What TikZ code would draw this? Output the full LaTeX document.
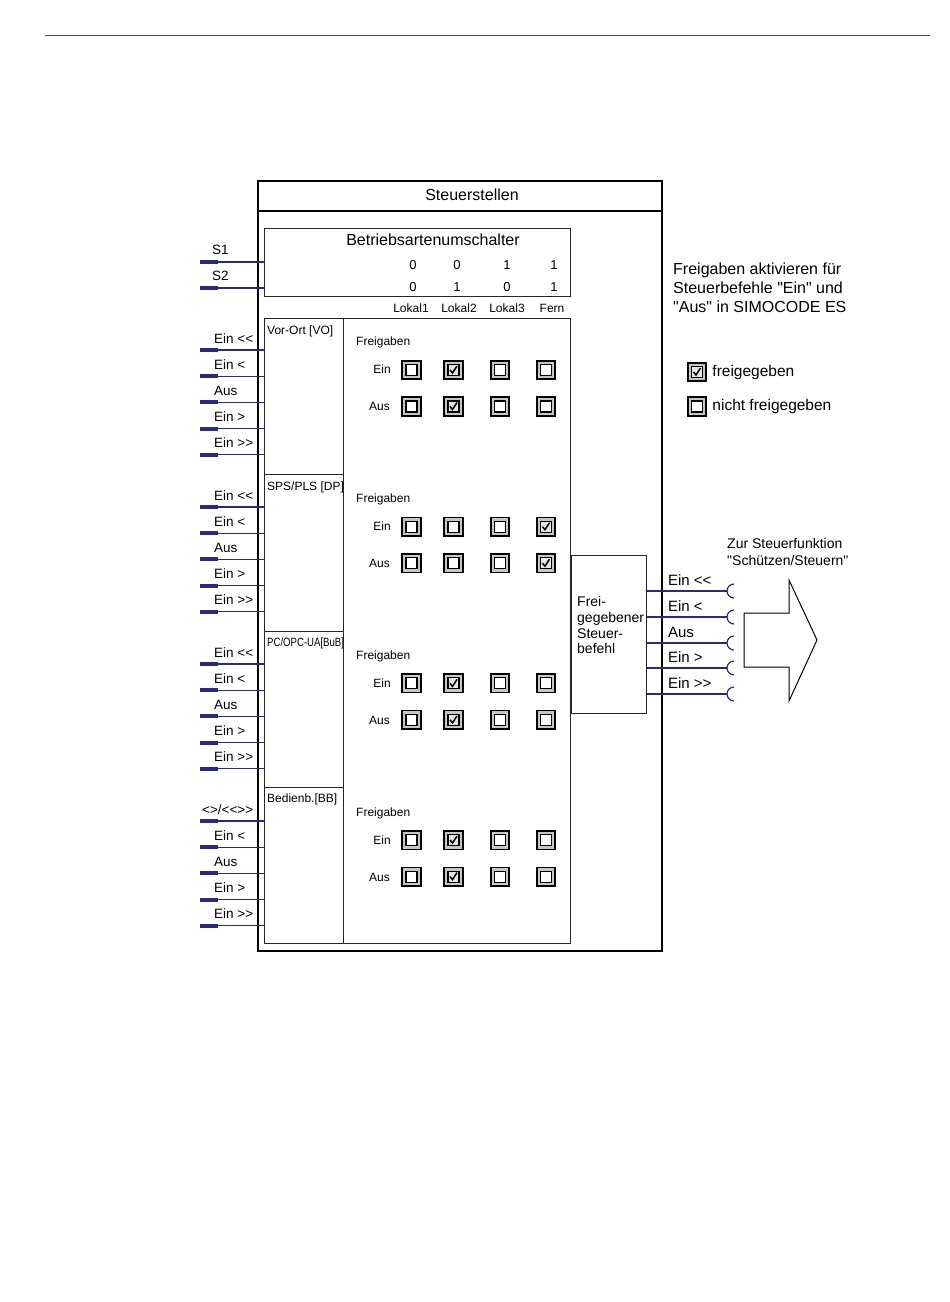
\documentclass[tikz,border=0pt]{standalone}
\usepackage{fontspec}
\setmainfont{Liberation Sans}[Ligatures=TeXOff]
\usetikzlibrary{positioning,calc}
\definecolor{sigblue}{RGB}{40,40,135}

\newcommand{\bigf}{\fontsize{16}{18}\selectfont}
\newcommand{\notef}{\fontsize{15.5}{18}\selectfont}
\newcommand{\outf}{\fontsize{15}{17}\selectfont}
\newcommand{\midf}{\fontsize{14}{16}\selectfont}
\newcommand{\sigf}{\fontsize{13.5}{15}\selectfont}
\newcommand{\digf}{\fontsize{13}{15}\selectfont}
\newcommand{\smf}{\fontsize{12}{14}\selectfont}

\tikzset{
  box/.style={draw=black!85, line width=0.9pt, inner sep=0pt, anchor=north west},
  sig/.style={draw=sigblue, line width=1.2pt},
  stub/.style={draw=sigblue, line width=4pt},
  lbl/.style={anchor=base west, inner sep=0pt, font=\sigf},
  chk/.style={draw=black, line width=1.6pt, fill=gray!45, minimum size=18.5pt,
    inner sep=0pt, outer sep=0pt,
    path picture={\draw[line width=1.1pt, fill=white]
      ([shift={(-5.5,-5.5)}]path picture bounding box.center) rectangle
      ([shift={(5.5,5.5)}]path picture bounding box.center);}},
  chkon/.style={chk,
    path picture={\draw[line width=1.1pt, fill=gray!20]
      ([shift={(-5.5,-5.5)}]path picture bounding box.center) rectangle
      ([shift={(5.5,5.5)}]path picture bounding box.center);
      \draw[line width=1.5pt]
      ([shift={(-3.5,0)}]path picture bounding box.center) --
      ([shift={(-1,3)}]path picture bounding box.center) --
      ([shift={(3.5,-4)}]path picture bounding box.center);}}
}

\begin{document}
\begin{tikzpicture}[x=1pt, y=-1pt, font=\smf]
  \useasboundingbox (0,0) rectangle (950,1302);
  %% page rule
  \draw[black!70, line width=0.8pt] (45,35) -- (930,35);

  %% frame with title
  \node[box, draw=black, line width=2pt, minimum width=404pt, minimum height=770pt] (frame) at (257,180) {};
  \draw[line width=1.6pt] ($(frame.north west)+(0,31)$) -- ($(frame.north east)+(0,31)$);
  \node[anchor=base, font=\bigf] (titel) at (472,200) {Steuerstellen};

  %% Betriebsartenumschalter
  \node[box, minimum width=306pt, minimum height=68pt] (modus) at (264,228) {};
  \node[anchor=base, font=\bigf] (modustitel) at (433,245) {Betriebsartenumschalter};
  \foreach \x/\lx/\a/\b/\m [count=\i] in {413/411/0/0/Lokal1, 457/459/0/1/Lokal2,
                                          507/507/1/0/Lokal3, 554/552/1/1/Fern}{
    \node[anchor=base, font=\digf] (sa\i) at (\x,269) {\a};
    \node[anchor=base, font=\digf] (sb\i) at (\x,291) {\b};
    \node[anchor=base, font=\smf] (mode\i) at (\lx,312) {\m};
  }
  \foreach \y/\s in {262/S1, 288/S2}{
    \coordinate (\s) at (200,\y);
    \draw[sig] (\s) -- (\s -| modus.west);
    \draw[stub] (\s) -- ++(18,0);
    \node[lbl] (lab\s) at ($(\s)+(12,-8)$) {\s};
  }

  %% Steuerstellen with Freigaben
  \node[box, minimum width=227pt, minimum height=625pt] (freig) at (343,318) {};
  \foreach \k/\src/\on in {0/{Vor-Ort [VO]}/2, 1/{SPS/PLS [DP]}/4,
                           2/{\scalebox{0.8}[1]{PC/OPC-UA[BuB]}}/2, 3/{Bedienb.[BB]}/2}{
    \node[box, minimum width=79pt, minimum height=156.25pt] (src\k) at (264,{318+156.25*\k}) {};
    \node[anchor=base west, inner sep=0pt] (srclab\k) at ($(src\k.north west)+(3,16)$) {\src};
    \node[anchor=base west, inner sep=0pt] (fg\k) at (356,{345+157*\k}) {Freigaben};
    \node[anchor=base east, inner sep=0pt] (ein\k) at (391,{373+157*\k}) {Ein};
    \node[anchor=base east, inner sep=0pt] (aus\k) at (390,{410+157*\k}) {Aus};
    \foreach \x [count=\j] in {411.5,453.5,500,546}{
      \ifnum\j=\on\def\cs{chkon}\else\def\cs{chk}\fi
      \node[\cs] (e\k-\j) at (\x,{370+156.7*\k}) {};
      \node[\cs] (a\k-\j) at (\x,{406.5+156.7*\k}) {};
    }
    \foreach \t [count=\i] in {Ein <<, Ein <, Aus, Ein >, Ein >>}{
      \ifnum\k\i=31 \def\lab{<>/<<>>}\def\dx{2}\else\def\lab{\t}\def\dx{14}\fi
      \coordinate (in\k-\i) at (200,{350+157*\k+26.2*(\i-1)});
      \draw[sig] (in\k-\i) -- (in\k-\i -| src\k.west);
      \draw[stub] (in\k-\i) -- ++(18,0);
      \node[lbl] (t\k-\i) at ($(in\k-\i)+(\dx,-7)$) {\lab};
    }
  }

  %% Freigegebener Steuerbefehl
  \node[box, minimum width=75pt, minimum height=158pt] (befehl) at (571,555) {};
  \foreach \y/\t [count=\i] in {606/Frei-, 622/gegebener, 638/Steuer-, 653/befehl}{
    \node[anchor=base west, inner sep=0pt, font=\midf] (bt\i) at (577,\y) {\t};
  }
  \foreach \y/\t [count=\i] in {591/Ein <<, 617/Ein <, 643/Aus, 668/Ein >, 694/Ein >>}{
    \coordinate (out\i) at (727,\y);
    \draw[sig] (out\i -| befehl.east) -- (out\i);
    \draw[sig] ($(out\i)+(7,0)$) ++(90:7) arc[start angle=90, end angle=270, radius=7];
    \node[lbl, font=\outf] (ot\i) at ($(out\i -| befehl.east)+(21,-6)$) {\t};
  }

  %% block arrow to the Steuerfunktion
  \draw[line width=1pt] (744,613) -- (789,613) -- (789,580) -- (817,640)
    -- (789,701) -- (789,667) -- (744,667) -- cycle;
  \node[anchor=base west, inner sep=0pt, font=\midf] (ziel1) at (727,548) {Zur Steuerfunktion};
  \node[anchor=base west, inner sep=0pt, font=\midf] (ziel2) at (727,565) {"Schützen/Steuern"};

  %% note and legend
  \foreach \y/\t [count=\i] in {274/Freigaben aktivieren für, 293/Steuerbefehle "Ein" und,
                                312/"Aus" in SIMOCODE ES}{
    \node[anchor=base west, inner sep=0pt, font=\bigf] (note\i) at (673,\y) {\t};
  }
  \node[chkon] (legon) at (697,372) {};
  \node[right=6pt of legon, inner sep=0pt, font=\notef] (legontxt) {freigegeben};
  \node[chk] (legoff) at (697,406.5) {};
  \node[right=6pt of legoff, inner sep=0pt, font=\notef] (legofftxt) {nicht freigegeben};
\end{tikzpicture}
\end{document}
